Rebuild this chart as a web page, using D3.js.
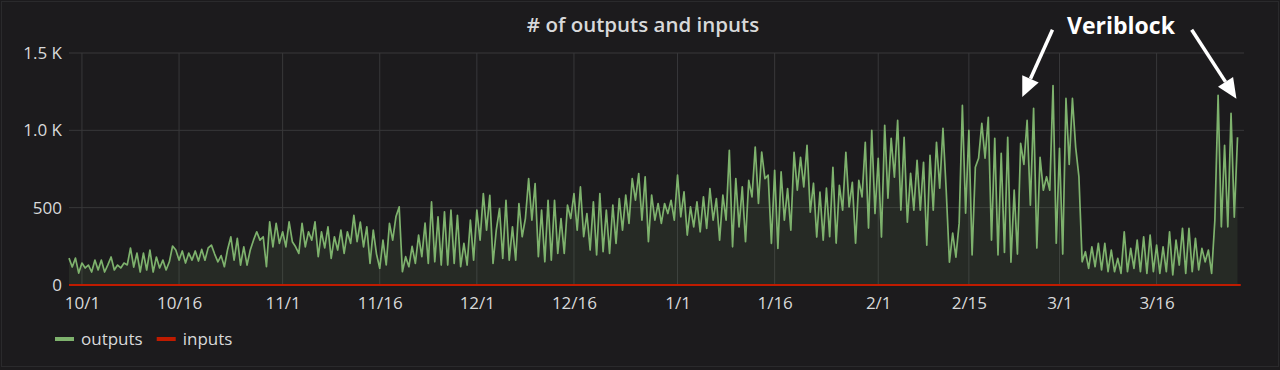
<!DOCTYPE html>
<html>
<head>
<meta charset="utf-8">
<script src="https://cdn.jsdelivr.net/npm/d3@7"></script>
<style>
  html, body { margin: 0; padding: 0; background: #1c1b1d; }
  svg { display: block; font-family: "Open Sans", "Noto Sans", sans-serif; }
</style>
</head>
<body>
<svg id="chart" width="1280" height="370"></svg>
<script>
// ---------------- data ----------------
const seriesStart = "2017-09-29T00:00:00Z";   // first sample
const stepHours = 12;                           // sampling interval

// # of outputs, one value per 12 h
const outputs = [
  174,116,174,77,142,110,129,84,161,97,
  161,84,130,181,97,129,110,142,130,239,
  116,206,84,206,97,226,84,181,110,161,
  97,150,252,226,161,220,142,206,161,220,
  155,230,160,240,258,
  200,150,190,118,230,312,161,301,129,247,
  129,226,290,344,290,312,118,408,247,398,
  269,344,247,408,280,247,204,398,247,344,
  290,408,183,344,240,376,172,312,226,355,
  204,344,269,450,280,
  406,247,376,140,355,200,108,290,130,398,
  290,441,505,86,183,118,250,140,323,183,
  400,140,537,150,441,129,473,129,484,140,
  451,118,269,129,419,161,484,290,591,355,
  580,140,355,494,172,
  548,161,376,161,527,312,430,688,419,656,
  183,484,150,548,161,548,204,430,204,516,
  430,591,355,634,312,462,226,538,194,591,
  215,484,204,516,269,559,355,581,398,688,
  548,720,419,700,
  280,581,419,527,398,527,462,548,419,710,
  441,602,323,505,376,538,344,570,366,624,
  419,559,290,581,419,871,247,688,376,634,
  280,677,570,892,527,860,688,710,269,742,
  237,731,419,624,355,
  858,613,826,634,903,471,658,310,600,290,
  626,312,761,271,645,484,858,505,664,271,
  677,570,922,368,1000,462,819,310,1032,561,
  948,697,1064,484,955,406,722,484,806,484,
  793,258,838,484,922,
  626,1013,613,148,335,180,400,1161,464,1000,
  194,761,819,1045,820,1084,290,948,194,851,
  210,955,148,613,200,916,780,1064,516,1142,
  239,826,613,700,613,1290,270,884,200,1206,
  780,1206,890,700,150,
  215,108,247,118,269,97,269,86,226,86,
  172,75,344,86,237,108,290,86,312,75,
  323,86,258,75,247,86,344,65,290,129,
  366,75,366,86,301,97,237,150,226,75,
  420,1226,376,903,376,1110,439,955
];

// # of inputs: flat at zero across the range
const inputDates  = ["2017-09-29","2017-10-01","2017-11-01","2017-12-01","2018-01-01","2018-02-01","2018-03-01","2018-03-29"];
const inputValues = [0,0,0,0,0,0,0,0];

const xTickDates  = ["2017-10-01","2017-10-16","2017-11-01","2017-11-16","2017-12-01","2017-12-16","2018-01-01","2018-01-16","2018-02-01","2018-02-15","2018-03-01","2018-03-16"];
const xTickLabels = ["10/1","10/16","11/1","11/16","12/1","12/16","1/1","1/16","2/1","2/15","3/1","3/16"];
const yTickValues = [0, 500, 1000, 1500];
const yTickLabels = ["0", "500", "1.0 K", "1.5 K"];

const timeDomain = ["2017-09-29T00:00:00Z", "2018-03-29T12:00:00Z"];
const yDomain = [0, 1500];

const chartTitle = "# of outputs and inputs";
const seriesNames = ["outputs", "inputs"];
const seriesColors = ["#7eb26d", "#bf1b00"];

// annotation: [date, value] of label and arrow tails / heads
const annotationText = "Veriblock";
const annotationTextAt = ["2018-03-10T12:00:00Z", 1625];
const arrows = [
  { from: ["2018-02-27T22:00:00Z", 1650], to: ["2018-02-23T06:00:00Z", 1215] },
  { from: ["2018-03-21T10:00:00Z", 1650], to: ["2018-03-28T08:00:00Z", 1205] }
];

// ---------------- drawing ----------------
const W = 1280, H = 370;
const margin = { left: 69, right: 36, top: 53, bottom: 85 };
const svg = d3.select("#chart");

svg.append("rect").attr("x", 1.5).attr("y", 1.5).attr("width", W - 3).attr("height", H - 5)
  .attr("fill", "#1c1b1d").attr("stroke", "#2a2a2c").attr("stroke-width", 1);

const parseT = d => new Date(d);
const x = d3.scaleUtc().domain(timeDomain.map(parseT)).range([margin.left, W - margin.right]);
const y = d3.scaleLinear().domain(yDomain).range([H - margin.bottom, margin.top]);

const start = parseT(seriesStart);
const outData = outputs.map((v, i) => ({ t: d3.utcHour.offset(start, i * stepHours), v }));
const inData = inputDates.map((d, i) => ({ t: parseT(d + "T00:00:00Z"), v: inputValues[i] }));

const textColor = "#d8d9da";
const gridColor = "#38383a";

// grid
const g = svg.append("g");
g.selectAll(".hgrid").data(yTickValues.filter(v => v > 0)).join("line")
  .attr("x1", x.range()[0]).attr("x2", x.range()[1])
  .attr("y1", d => y(d)).attr("y2", d => y(d))
  .attr("stroke", gridColor).attr("stroke-width", 1);
g.selectAll(".vgrid").data(xTickDates).join("line")
  .attr("x1", d => x(parseT(d + "T00:00:00Z"))).attr("x2", d => x(parseT(d + "T00:00:00Z")))
  .attr("y1", y(yDomain[1])).attr("y2", y(0))
  .attr("stroke", gridColor).attr("stroke-width", 1);

// y axis labels
const yAxis = d3.axisLeft(y).tickValues(yTickValues)
  .tickFormat((d, i) => yTickLabels[i]).tickSize(0).tickPadding(7);
const yG = svg.append("g").attr("transform", `translate(${margin.left},0)`).call(yAxis);
yG.select(".domain").remove();
yG.selectAll("text").attr("fill", textColor).attr("font-size", 17)
  .attr("font-family", "'Open Sans', sans-serif");

// x axis labels
const xAxis = d3.axisBottom(x).tickValues(xTickDates.map(d => parseT(d + "T00:00:00Z")))
  .tickFormat((d, i) => xTickLabels[i]).tickSize(0).tickPadding(12);
const xG = svg.append("g").attr("transform", `translate(0,${y(0)})`).call(xAxis);
xG.select(".domain").remove();
xG.selectAll("text").attr("fill", textColor).attr("font-size", 17)
  .attr("font-family", "'Open Sans', sans-serif");

// outputs area + line
const area = d3.area().x(d => x(d.t)).y0(y(0)).y1(d => y(d.v));
const line = d3.line().x(d => x(d.t)).y(d => y(d.v));
svg.append("path").datum(outData).attr("d", area)
  .attr("fill", seriesColors[0]).attr("fill-opacity", 0.1);
svg.append("path").datum(outData).attr("d", line)
  .attr("fill", "none").attr("stroke", seriesColors[0]).attr("stroke-width", 1.7)
  .attr("stroke-linejoin", "round");

// inputs line
svg.append("path").datum(inData).attr("d", line)
  .attr("fill", "none").attr("stroke", seriesColors[1]).attr("stroke-width", 2.2);

// title
svg.append("text").attr("x", 643).attr("y", 32)
  .attr("text-anchor", "middle").attr("fill", textColor)
  .attr("font-size", 20.5).attr("font-weight", 600).text(chartTitle);

// legend
const legend = svg.append("g").attr("transform", "translate(55,339)");
let lx = 0;
seriesNames.forEach((name, i) => {
  legend.append("rect").attr("x", lx).attr("y", -2).attr("width", 19).attr("height", 4)
    .attr("fill", seriesColors[i]);
  const t = legend.append("text").attr("x", lx + 26).attr("y", 6)
    .attr("fill", textColor).attr("font-size", 17).text(name);
  lx += 26 + t.node().getComputedTextLength() + 14;
});

// annotation
const ann = svg.append("g");
ann.append("text").attr("x", x(parseT(annotationTextAt[0]))).attr("y", y(annotationTextAt[1]))
  .attr("text-anchor", "middle").attr("fill", "#ffffff")
  .attr("font-size", 23).attr("font-weight", 700).text(annotationText);
arrows.forEach(a => {
  const x1 = x(parseT(a.from[0])), y1 = y(a.from[1]);
  const x2 = x(parseT(a.to[0])), y2 = y(a.to[1]);
  const ang = Math.atan2(y2 - y1, x2 - x1);
  const headLen = 20, headW = 9;
  const bx = x2 - headLen * Math.cos(ang), by = y2 - headLen * Math.sin(ang);
  ann.append("line").attr("x1", x1).attr("y1", y1).attr("x2", bx).attr("y2", by)
    .attr("stroke", "#ffffff").attr("stroke-width", 3.5);
  const px = -Math.sin(ang), py = Math.cos(ang);
  ann.append("polygon")
    .attr("points", [[x2, y2], [bx + px * headW, by + py * headW], [bx - px * headW, by - py * headW]].map(p => p.join(",")).join(" "))
    .attr("fill", "#ffffff");
});
</script>
</body>
</html>
